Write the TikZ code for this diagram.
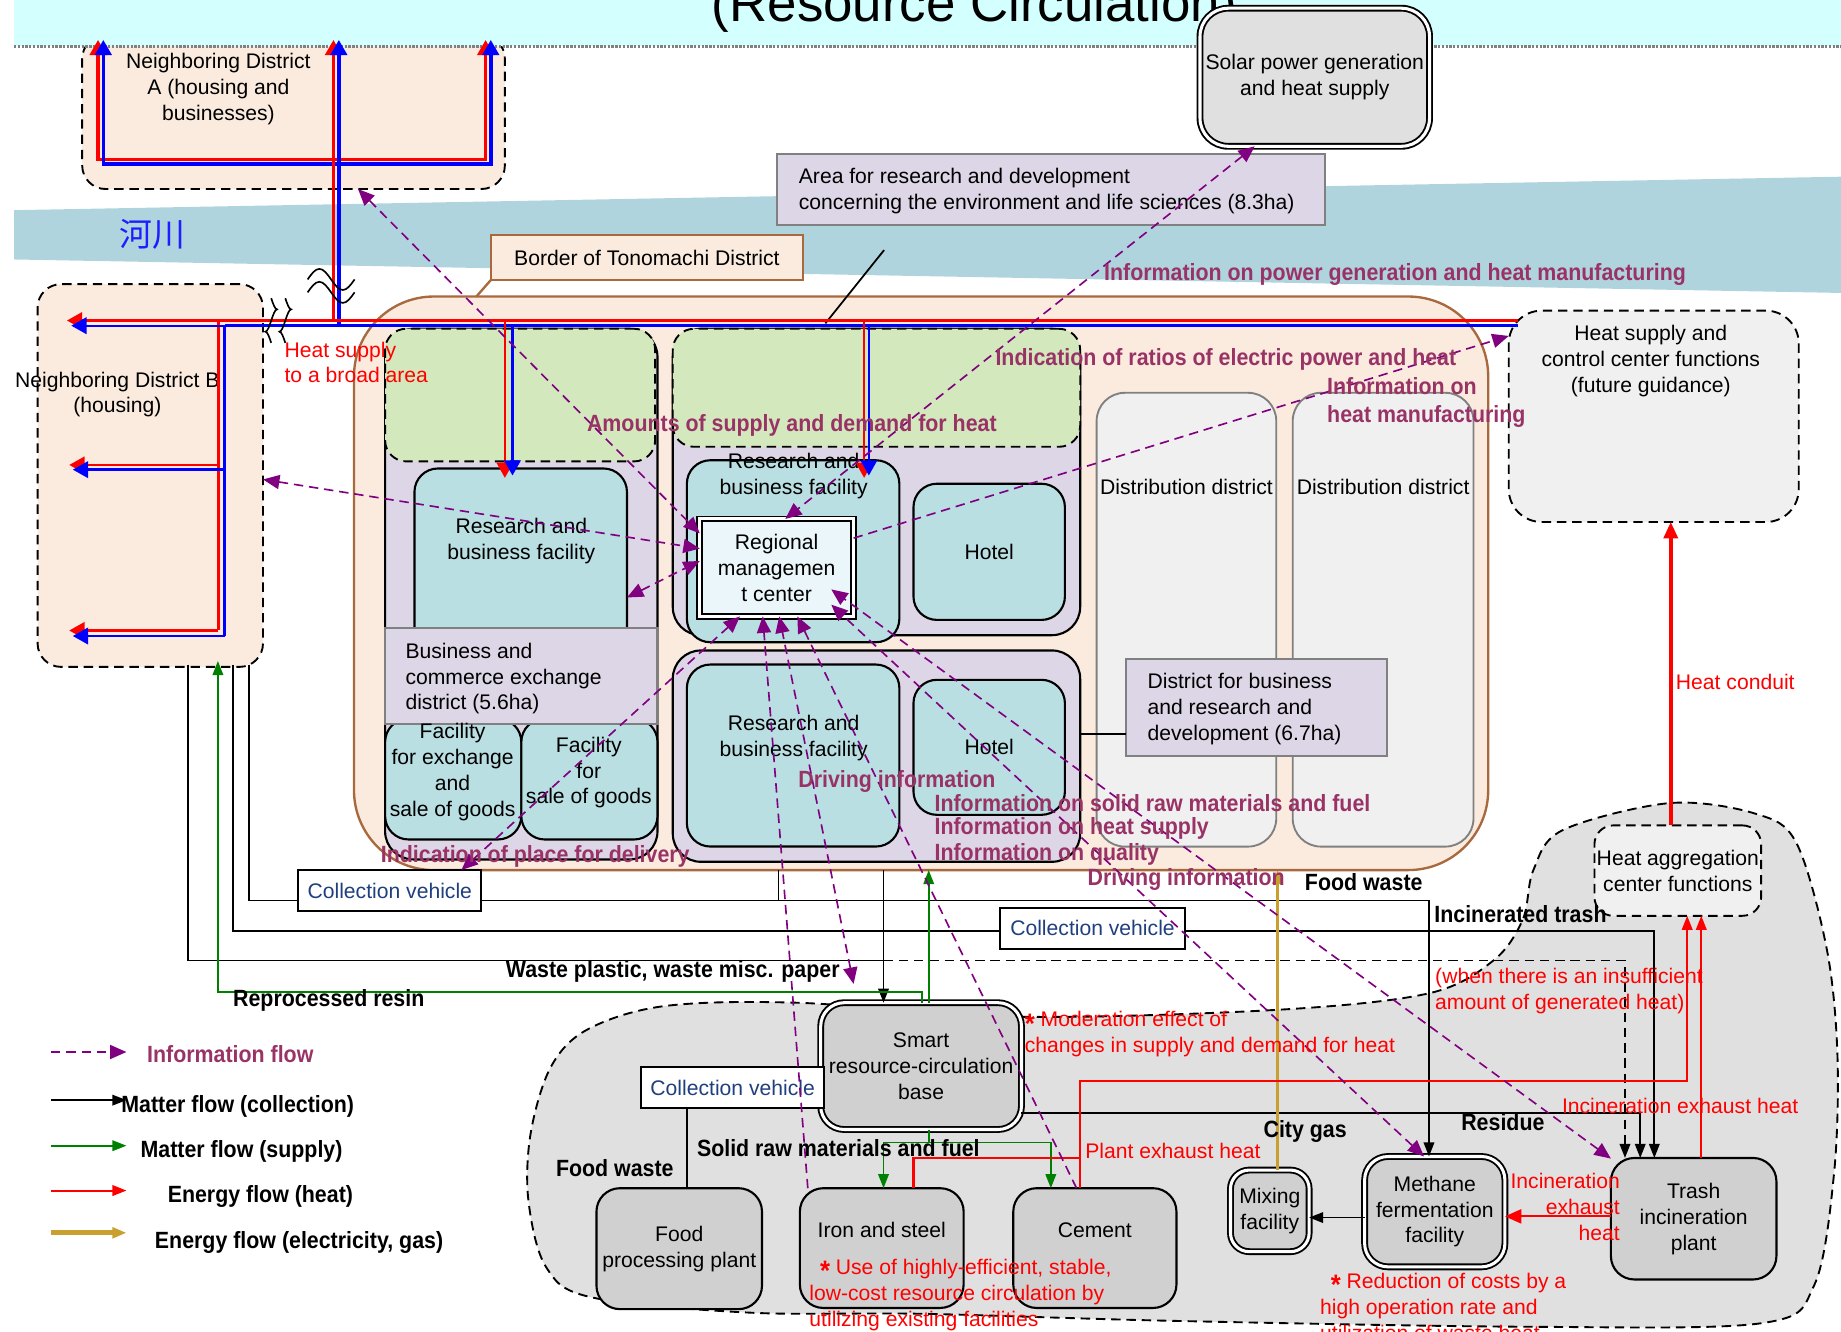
\documentclass[tikz,border=0pt]{standalone}
\usepackage{fontspec}
\setmainfont{Liberation Sans}[BoldFeatures={FakeStretch=0.91}]
\newfontfamily\cjk{Noto Sans CJK SC}
\usetikzlibrary{arrows.meta,calc}

\definecolor{peach}{HTML}{FAEBDE}
\definecolor{brownedge}{HTML}{A8693F}
\definecolor{river}{HTML}{B0D4DE}
\definecolor{banner}{HTML}{D4FFFF}
\definecolor{lav}{HTML}{DDD6E6}
\definecolor{leaf}{HTML}{D3E8BD}
\definecolor{facteal}{HTML}{B9DFE2}
\definecolor{paleblue}{HTML}{EAF6F9}
\definecolor{palegrey}{HTML}{F0F0F0}
\definecolor{blobgrey}{HTML}{E0E0E0}
\definecolor{plantgrey}{HTML}{D0D0D0}
\definecolor{infoline}{HTML}{800080}
\definecolor{infotext}{HTML}{993366}
\definecolor{vehblue}{HTML}{1F3F7F}
\definecolor{supplygreen}{HTML}{008000}
\definecolor{gasgold}{HTML}{C9A030}
\definecolor{pipeblue}{HTML}{0000FF}
\definecolor{cjkblue}{HTML}{1E1EFF}

\newcommand{\redstar}{\raisebox{-0.55ex}{\fontsize{12}{12}\selectfont\bfseries *}}

\tikzset{
  sz/.style 2 args={minimum width=#1*0.5pt, minimum height=#2*0.5pt, inner sep=0pt, outer sep=0pt},
  zone/.style={draw, dash pattern=on 4pt off 2.5pt, line width=0.8pt, fill=peach, rounded corners=10pt},
  greenzone/.style={draw, dash pattern=on 4pt off 2.5pt, line width=0.8pt, fill=leaf, rounded corners=9pt},
  block/.style={draw, line width=0.9pt, fill=lav, rounded corners=12pt},
  fac/.style={draw, line width=0.9pt, fill=facteal, rounded corners=10pt},
  plant/.style={draw, line width=0.9pt, fill=plantgrey, rounded corners=10pt},
  twin/.style={double, double distance=1.3pt, line width=0.8pt},
  areabox/.style={draw=gray, line width=0.9pt, fill=lav},
  distrib/.style={draw=gray, line width=0.8pt, fill=palegrey, rounded corners=12pt},
  vehicle/.style={draw, line width=0.9pt, fill=white, text=vehblue},
  infotip/.tip={Triangle[length=7pt,width=6pt]},
  flowtip/.tip={Triangle[length=6pt,width=4.5pt]},
  pipetip/.tip={Triangle[length=6.5pt,width=7pt]},
  info/.style={draw=infoline, line width=0.7pt, dash pattern=on 4pt off 2.5pt, -{infotip}},
  infoboth/.style={info, {infotip}-{infotip}},
  collect/.style={draw, line width=0.75pt},
  matter/.style={collect, -{flowtip}},
  supply/.style={draw=supplygreen, line width=0.75pt, -{flowtip}},
  heatline/.style={draw=red, line width=0.9pt},
  gasline/.style={draw=gasgold, line width=1.3pt, -{flowtip}},
  redpipe/.style={draw=red, line width=1.5pt},
  bluepipe/.style={draw=pipeblue, line width=1.5pt},
  breakmark/.style={draw, line width=0.7pt},
  infotxt/.style={font=\bfseries, text=infotext, anchor=west, align=left, inner sep=0pt},
  flowtxt/.style={font=\bfseries, inner sep=0pt},
  redtxt/.style={text=red, anchor=west, align=left, inner sep=0pt},
}

\begin{document}
\begin{tikzpicture}[x=0.5pt,y=-0.5pt,font=\fontsize{9}{11}\selectfont]
\useasboundingbox (0,0) rectangle (1568,1134);
\clip (0,0) rectangle (1568,1134);

% river
\fill[river] (12,179) -- (1568,150.5) -- (1568,249.5) -- (12,221) -- cycle;
\node[text=cjkblue, font=\cjk\fontsize{14}{16}\selectfont] (riverlbl) at (130,200) {河川};

% neighbouring districts
\node[zone, sz={360}{131}] (distA) at (250,95.5) {};
\node[align=center] (distAlbl) at (186,76) {Neighboring District\\A (housing and\\businesses)};
\node[zone, sz={192}{326}] (distB) at (128,405) {};
\node[align=center] (distBlbl) at (100,336) {Neighboring District B\\(housing)};

% Tonomachi
\node[draw=brownedge, line width=1pt, fill=peach, rounded corners=34pt, sz={966}{488.5}] (tono) at (784.5,496.8) {};
\node[draw=brownedge, line width=1pt, fill=peach, sz={266}{38.5}] (tonoBorder) at (551,219.3) {Border of Tonomachi District};
\draw[brownedge, line width=1pt] (tonoBorder.south west) -- (405.8,252.5);
\draw[line width=0.75pt] (753,213) -- (703,275.4);

% banner
\fill[banner] (12,0) rectangle (1568,39);
\draw[gray, line width=1.5pt, dash pattern=on 1pt off 0.6pt] (12,39.5) -- (1568,39.5);
\node[anchor=base west, inner sep=0pt, font=\fontsize{22.5}{27}\selectfont] (title) at (606,18.5) {(Resource Circulation)};

\node[areabox, sz={466.6}{60.6}] (area83) at (895.3,161.3) {};
\node[anchor=west, align=left, inner sep=0pt] (area83lbl) at (680,162.8) {Area for research and development\\concerning the environment and life sciences (8.3ha)};
\node[plant, twin, fill=blobgrey, rounded corners=12pt, sz={195.5}{117.6}, align=center] (solar) at (1119.8,65.8) {Solar power generation\\and heat supply};

\node[draw, dash pattern=on 4pt off 2.5pt, line width=0.8pt, fill=palegrey, rounded corners=14pt, sz={247}{180}] (heatctl) at (1408.5,354.6) {};
\node[align=center] (heatctllbl) at (1406,307.3) {Heat supply and\\control center functions\\(future guidance)};

% business and commerce exchange district
\node[block, sz={232}{452}] (lavL) at (444,506) {};
\node[greenzone, sz={230}{113}] (greenL) at (443,336.5) {};
\node[fac, sz={181}{161}] (facL) at (443.5,479.5) {};
\node[align=center] (facLlbl) at (444,461) {Research and\\business facility};
\node[fac, sz={116}{103}] (facEx) at (386,663.5) {};
\node[fac, sz={116}{103}] (facSale) at (502,663.5) {};
\node[areabox, sz={232}{82}] (bizbox) at (444,576) {};
\node[anchor=west, align=left, inner sep=0pt] (bizlbl) at (345,578) {Business and\\commerce exchange\\district (5.6ha)};
\node[align=center] (facExlbl) at (385.5,657.5) {Facility\\for exchange\\and\\sale of goods};
\node[align=center] (facSalelbl) at (501.5,658) {Facility\\for\\sale of goods};

% business and R&D district
\node[block, sz={347}{261}] (lavM1) at (746.5,410.5) {};
\node[greenzone, sz={347}{100.5}] (greenM) at (746.5,330.3) {};
\node[fac, sz={181}{155}] (facM) at (675.5,469.5) {};
\node[align=center] (facMlbl) at (676,405.5) {Research and\\business facility};
\node[draw, twin, fill=paleblue, sz={131}{83}, align=center] (rmc) at (661.5,483.5) {Regional\\managemen\\t center};
\node[fac, sz={129}{116}] (hotel1) at (842.5,470) {Hotel};
\node[block, sz={347}{180}] (lavM2) at (746.5,644) {};
\node[fac, sz={181}{155}] (facM2) at (675.5,643.5) {};
\node[align=center] (facM2lbl) at (676,628.5) {Research and\\business facility};
\node[fac, sz={129}{115}] (hotel2) at (842.5,636.5) {Hotel};

\node[distrib, sz={153}{386.5}] (dist1) at (1010.5,527.8) {};
\node (dist1lbl) at (1010.5,415) {Distribution district};
\node[distrib, sz={154}{386.5}] (dist2) at (1178,527.8) {};
\node (dist2lbl) at (1178,415) {Distribution district};
\node[areabox, sz={222}{83}] (d67) at (1070,602.5) {};
\node[anchor=west, align=left, inner sep=0pt] (d67lbl) at (977,603.7) {District for business\\and research and\\development (6.7ha)};
\draw[line width=0.9pt] (lavM2.east |- 0,625) -- (d67.west |- 0,625);

% resource circulation area
\draw[fill=blobgrey, dash pattern=on 4pt off 2.5pt, line width=0.8pt] plot[smooth cycle, tension=0.55] coordinates {
  (678,854) (870,866) (1089,860) (1217,846) (1272,818) (1297,783) (1306,741) (1331,707)
  (1422,684) (1495,693) (1530,718) (1556,809) (1565,900) (1562,1000) (1545,1095) (1500,1127)
  (1300,1130) (1000,1125) (787,1119) (639,1118) (504,1105) (465,1079) (450,1022)
  (452,965) (469,909) (500,877) (565,857)};
\node[draw, dash pattern=on 4pt off 2.5pt, line width=0.8pt, fill=palegrey, rounded corners=8pt, sz={142}{77}, align=center] (heatagg) at (1429,741.5) {Heat aggregation\\center functions};

\node[plant, twin, sz={171}{108}, align=center] (smart) at (784.5,908) {Smart\\resource-circulation\\base};
\node[plant, sz={141}{103}, align=center] (food) at (578.5,1063.5) {Food\\processing plant};
\node[plant, sz={139.5}{102}] (iron) at (751,1063) {};
\node (ironlbl) at (751,1047.6) {Iron and steel};
\node[plant, sz={139}{102}] (cement) at (932.5,1063) {};
\node (cementlbl) at (932.5,1048) {Cement};
\node[plant, twin, rounded corners=8pt, sz={67}{69.5}, align=center] (mixing) at (1081.5,1031.3) {Mixing\\facility};
\node[plant, twin, sz={119.5}{94}, align=center] (methane) at (1222,1032) {Methane\\fermentation\\facility};
\node[plant, sz={141}{103.5}, align=center] (trash) at (1442.5,1038) {Trash\\incineration\\plant};

% heat pipes
\draw[redpipe, {pipetip}-{pipetip}] (83.5,34) -- (83.5,135.7) -- (413.6,135.7) -- (413.6,34);
\draw[bluepipe, {pipetip}-{pipetip}] (88,34) -- (88,139.7) -- (418,139.7) -- (418,34);
\draw[redpipe, -{pipetip}] (284,273) -- (284,34);
\draw[bluepipe, -{pipetip}] (288.6,277.4) -- (288.6,34);
\draw[redpipe] (1293,273) -- (186,273);
\draw[redpipe, line width=1pt, -{pipetip}] (186,273) -- (57,273);
\draw[redpipe, line width=1.2pt] (186,273) -- (186,537);
\draw[redpipe, line width=1pt, -{pipetip}] (186,396) -- (59,396);
\draw[redpipe, line width=1pt, -{pipetip}] (186,537) -- (59,537);
\draw[bluepipe] (1293,277.4) -- (191.5,277.4);
\draw[bluepipe, line width=1pt, -{pipetip}] (191.5,277.4) -- (60.7,277.4);
\draw[bluepipe, line width=1.2pt] (191.5,277.4) -- (191.5,541.7);
\draw[bluepipe, line width=1pt, -{pipetip}] (191.5,400) -- (62,400);
\draw[bluepipe, line width=1pt, -{pipetip}] (191.5,541.7) -- (62,541.7);
\draw[redpipe, line width=1pt, -{pipetip}] (430,273) -- (430,407);
\draw[bluepipe, line width=1pt, -{pipetip}] (436.5,277.4) -- (436.5,405);
\draw[redpipe, line width=1pt, -{pipetip}] (736,273) -- (736,407);
\draw[bluepipe, line width=1pt, -{pipetip}] (740,277.4) -- (740,405);
\draw[breakmark] (262,238) sin (272,229) cos (282,238) sin (292,247) cos (302,238);
\draw[breakmark] (262,249) sin (272,240) cos (282,249) sin (292,258) cos (302,249);
\draw[breakmark] (231,254) sin (236,263.5) cos (231,273) sin (226,282.5) cos (231,292);
\draw[breakmark] (243,254) sin (248,263.5) cos (243,273) sin (238,282.5) cos (243,292);

% matter flow (collection)
\draw[matter] (212,566) -- (212,767) -| (methane.96);
\draw[collect] (663,0 |- tono.south) -- (663,767);
\draw[matter] (752.5,0 |- tono.south) -- (752.5,0 |- smart.north);
\draw[matter] (198.5,566) -- (198.5,793) -| (1409,0 |- trash.north);
\draw[collect] (160,566) -- (160,818) -- (752.5,818);
\draw[matter, dash pattern=on 4pt off 2.5pt] (752.5,818) -| (1384,0 |- trash.north);
\draw[matter] (smart.east |- 0,948) -| (1397,0 |- trash.north);
\draw[matter] (methane.west |- 0,1037) -- (mixing.east |- 0,1037);
\node[vehicle, sz={156}{35}] (veh3) at (624,926.5) {Collection vehicle};
\draw[collect] (veh3.south -| 585,0) -- (food.north -| 585,0);

% energy flow (electricity, gas)
\draw[gasline] (1088,0 |- mixing.north) -- (1088,0 |- tono.south);

% matter flow (supply)
\draw[supply] (791,0 |- smart.north) -- (791,0 |- tono.south);
\draw[supply] (785,0 |- smart.north) -- (785,845) -- (185.6,845) -- (185.6,563);
\draw[supplygreen, line width=0.75pt] (791,0 |- smart.south) -- (791,973);
\draw[supply] (791,973) -| (752.5,0 |- iron.north);
\draw[supply] (791,973) -| (895,0 |- cement.north);

% energy flow (heat)
\draw[heatline] (778,0 |- iron.north) |- (920,986);
\draw[heatline, -{flowtip}] (920,0 |- cement.north) |- (1437,921) -- (1437,0 |- heatagg.south);
\draw[heatline, -{flowtip}] (1449,0 |- trash.north) -- (1449,0 |- heatagg.south);
\draw[heatline, -{Triangle[length=7pt,width=6pt]}] (trash.west |- 0,1036) -- (methane.east |- 0,1036);
\draw[heatline, line width=1.5pt, -{Triangle[length=7pt,width=6pt]}] (1423,0 |- heatagg.north) -- (1423,0 |- heatctl.south);

\node[vehicle, sz={156}{35}] (veh1) at (332,758.5) {Collection vehicle};
\node[vehicle, sz={157}{35}] (veh2) at (930.5,790.5) {Collection vehicle};

% information flow
\coordinate (wasteinfo) at (727,838);
\draw[infoboth] (distA.310) -- (rmc.156);
\draw[infoboth] (distB.358) -- (rmc.166);
\draw[infoboth] (facL.342) -- (rmc.175);
\draw[infoboth] (solar.229) -- (rmc.80);
\draw[info] (rmc.21) -- (heatctl.151);
\draw[infoboth] (veh1.16) -- (rmc.233);
\draw[info] (iron.141) -- (rmc.254);
\draw[infoboth] (wasteinfo) -- (rmc.273);
\draw[info] (cement.107) -- (rmc.293);
\draw[infoboth] (methane.101) -- ($(rmc.center)+(46.5,31.5)$);
\draw[infoboth] (trash.144) -- ($(rmc.center)+(46.5,18.5)$);

% labels
\node[infotxt] (lblpower) at (940,233.4) {Information on power generation and heat manufacturing};
\node[infotxt] (lblratio) at (847.5,306) {Indication of ratios of electric power and heat};
\node[infotxt] (lblheatman) at (1130,342.5) {Information on\\heat manufacturing};
\node[infotxt] (lblamount) at (499.6,362) {Amounts of supply and demand for heat};
\node[infotxt] (lbldrive1) at (679.6,666) {Driving information};
\node[infotxt] (lblsolid) at (795.6,684) {Information on solid raw materials and fuel};
\node[infotxt] (lblheatsup) at (795.6,706) {Information on heat supply};
\node[infotxt] (lblquality) at (795.6,727.5) {Information on quality};
\node[infotxt] (lbldeliv) at (324,729) {Indication of place for delivery};
\node[infotxt] (lbldrive2) at (926,748.8) {Driving information};

\node[redtxt] (lblbroad) at (242,308.7) {Heat supply\\to a broad area};
\node[redtxt] (lblplant) at (924,980.4) {Plant exhaust heat};
\node[redtxt] (lblmoder) at (872.5,881) {\redstar\ Moderation effect of\\changes in supply and demand for heat};
\node[redtxt] (lblinsuf) at (1222,844.3) {(when there is an insufficient\\amount of generated heat)};
\node[redtxt] (lblincin) at (1330,942) {Incineration exhaust heat};
\node[redtxt, anchor=east, align=right] (lblincin2) at (1380,1028) {Incineration\\exhaust\\heat};
\node[redtxt] (lbluse) at (689,1103) {\enspace\redstar\ Use of highly-efficient, stable,\\low-cost resource circulation by\\utilizing existing facilities};
\node[redtxt] (lblcost) at (1124,1113) {\enspace\redstar\ Reduction of costs by a\\high operation rate and\\utilization of waste heat};
\node[redtxt] (lblconduit) at (1427,580.6) {Heat conduit};

\node[flowtxt] (lblwaste) at (573,827.6) {Waste plastic, waste misc. paper};
\node[flowtxt] (lblresin) at (280,852) {Reprocessed resin};
\node[flowtxt] (lblfood1) at (1161.5,751) {Food waste};
\node[flowtxt] (lblinctr) at (1295,778.6) {Incinerated trash};
\node[flowtxt] (lblresid) at (1280,955.4) {Residue};
\node[flowtxt] (lblgas) at (1111.6,964) {City gas};
\node[flowtxt] (lblsolidraw) at (714,978) {Solid raw materials and fuel};
\node[flowtxt] (lblfood2) at (523.6,995) {Food waste};

% legend
\draw[info] (43.5,896) -- (107.7,896);
\node[infotxt] (leginfo) at (125,897.7) {Information flow};
\draw[matter] (43.5,937) -- (107.7,937);
\node[flowtxt, anchor=west] (legcol) at (103,942.6) {Matter flow (collection)};
\draw[supply] (43.5,975.8) -- (107.7,975.8);
\node[flowtxt, anchor=west] (legsup) at (119.4,981) {Matter flow (supply)};
\draw[heatline, -{flowtip}] (43.5,1014) -- (107.7,1014);
\node[flowtxt, anchor=west] (legheat) at (142.5,1019) {Energy flow (heat)};
\draw[gasline, line width=2.2pt] (43.5,1050) -- (107.7,1050);
\node[flowtxt, anchor=west] (leggas) at (131.6,1058) {Energy flow (electricity, gas)};
\end{tikzpicture}
\end{document}
